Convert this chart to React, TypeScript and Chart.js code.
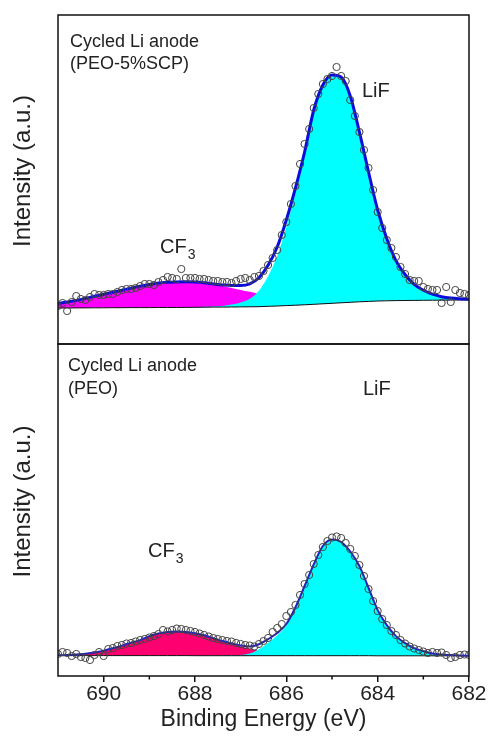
import React, { useEffect, useRef } from 'react';
import { Chart, registerables } from 'chart.js';

Chart.register(...registerables);

const FONT = '"Liberation Sans", Arial, Helvetica, sans-serif';

// Binding energy grid of the fitted curves (eV)
const FIT_ENERGY = [
  691.0, 690.8, 690.6, 690.4, 690.2, 690.0, 689.8, 689.6, 689.4, 689.2,
  689.0, 688.8, 688.6, 688.4, 688.2, 688.0, 687.8, 687.6, 687.4, 687.2,
  687.0, 686.8, 686.6, 686.4, 686.2, 686.0, 685.8, 685.6, 685.4, 685.2,
  685.0, 684.8, 684.6, 684.4, 684.2, 684.0, 683.8, 683.6, 683.4, 683.2,
  683.0, 682.8, 682.6, 682.4, 682.2, 682.0,
];

// Binding energy of the measured points (eV)
const DATA_ENERGY = [
  691.0, 690.9, 690.8, 690.7, 690.6, 690.5, 690.4, 690.3, 690.2, 690.1,
  690.0, 689.9, 689.8, 689.7, 689.6, 689.5, 689.4, 689.3, 689.2, 689.1,
  689.0, 688.9, 688.8, 688.7, 688.6, 688.5, 688.4, 688.3, 688.2, 688.1,
  688.0, 687.9, 687.8, 687.7, 687.6, 687.5, 687.4, 687.3, 687.2, 687.1,
  687.0, 686.9, 686.8, 686.7, 686.6, 686.5, 686.4, 686.3, 686.2, 686.1,
  686.0, 685.9, 685.8, 685.7, 685.6, 685.5, 685.4, 685.3, 685.2, 685.1,
  685.0, 684.9, 684.8, 684.7, 684.6, 684.5, 684.4, 684.3, 684.2, 684.1,
  684.0, 683.9, 683.8, 683.7, 683.6, 683.5, 683.4, 683.3, 683.2, 683.1,
  683.0, 682.9, 682.8, 682.7, 682.6, 682.5, 682.4, 682.3, 682.2, 682.1,
  682.0,
];

// ---- Top panel: Cycled Li anode (PEO-5%SCP) ----
const TOP_BACKGROUND = [
  36.0, 36.0, 36.1, 36.1, 36.2, 36.2, 36.3, 36.3, 36.4, 36.4,
  36.4, 36.5, 36.5, 36.5, 36.6, 36.7, 36.8, 36.9, 36.9, 37.0,
  37.1, 37.2, 37.3, 37.7, 38.0, 38.4, 38.8, 39.2, 39.7, 40.2,
  40.7, 41.2, 41.7, 42.2, 42.6, 43.0, 43.2, 43.4, 43.5, 43.6,
  43.7, 43.8, 43.8, 43.9, 44.0, 44.0,
];
const TOP_CF3 = [
  4.5, 6, 7.5, 9.5, 11.5, 13.5, 15.5, 17.5, 19.5, 21.5,
  23, 24.5, 25.3, 25.6, 25.5, 25, 24, 22.5, 21, 19,
  17, 15, 13, 11, 9, 7, 5.5, 4.2, 3, 2.2,
  1.5, 1, 0.6, 0.4, 0.2, 0.1, 0, 0, 0, 0,
  0, 0, 0, 0, 0, 0,
];
const TOP_LIF = [
  0, 0, 0, 0, 0, 0, 0, 0, 0, 0,
  0, 0, 0, 0, 0.1, 0.2, 0.4, 0.7, 1.2, 2.5,
  4.4, 8, 16, 30, 50, 78.6, 111.7, 148.6, 191.3, 216.6,
  226.8, 224.8, 205.7, 169.4, 129.2, 90.9, 62, 40, 26, 16,
  10, 6, 3.5, 2, 1.2, 0.8,
];
const TOP_COUNTS = [
  38, 41, 33, 42, 48, 45, 44, 47, 50, 49,
  49, 50, 50, 52, 54, 55, 55, 56, 58, 60,
  60, 59, 62, 64, 67, 66, 65, 75, 66, 66,
  66, 65, 65, 64, 63, 63, 62, 62, 61, 63,
  65, 66, 64, 67, 68, 73, 79, 86, 94, 109,
  122, 140, 158, 180, 200, 215, 236, 250, 260, 265,
  268, 277, 268, 263, 244, 228, 212, 194, 176, 154,
  132, 116, 104, 96, 87, 77, 70, 64, 63, 63,
  57, 55, 54, 54, 41, 57, 42, 54, 51, 50,
  49,
];

// ---- Bottom panel: Cycled Li anode (PEO) ----
const BOT_BACKGROUND = [
  20.4, 20.4, 20.4, 20.4, 20.4, 20.4, 20.4, 20.4, 20.4, 20.4,
  20.4, 20.4, 20.4, 20.4, 20.4, 20.3, 20.3, 20.3, 20.3, 20.3,
  20.3, 20.3, 20.3, 20.3, 20.3, 20.3, 20.3, 20.3, 20.3, 20.3,
  20.3, 20.3, 20.3, 20.3, 20.3, 20.2, 20.2, 20.2, 20.2, 20.2,
  20.2, 20.2, 20.2, 20.2, 20.2, 20.2,
];
const BOT_CF3 = [
  0.3, 0.6, 1.0, 1.8, 3.0, 5.0, 7.3, 10, 13, 15.5,
  19.5, 22, 23.5, 24, 23.7, 22.5, 20.5, 17.5, 14.5, 12,
  9.5, 7, 5, 3.5, 2.2, 1.4, 0.8, 0.5, 0.3, 0.2,
  0.1, 0, 0, 0, 0, 0, 0, 0, 0, 0,
  0, 0, 0, 0, 0, 0,
];
const BOT_LIF = [
  0, 0, 0, 0, 0, 0, 0, 0, 0, 0,
  0, 0, 0, 0, 0, 0, 0, 0.1, 0.2, 0.4,
  0.8, 2.2, 6.5, 13, 20.5, 30.3, 47.7, 69.2, 91, 109.5,
  116.1, 113.7, 104.2, 89.7, 67.7, 45.7, 30.7, 19.7, 12.7, 7.7,
  4.7, 2.3, 1.2, 0.7, 0.3, 0.1,
];
const BOT_COUNTS = [
  22, 24, 23, 20, 22, 19, 18, 16, 21, 24,
  20, 27, 28, 30, 31, 32.5, 33, 34.5, 36, 37,
  38.5, 40, 42, 46, 44.5, 46, 47.5, 47, 46, 45,
  44, 42.5, 41, 39.5, 38, 37, 36, 35, 34.5, 33,
  32, 31, 30.5, 29.5, 32, 35, 38, 44, 48, 52,
  60, 64, 71, 81, 92, 101, 112, 121, 129, 135,
  138.5, 139.5, 138, 133, 127, 120, 111, 100, 87, 75,
  65, 57, 51, 45, 41, 36, 32.5, 29.5, 27.5, 26,
  24.5, 23, 24, 23, 23.5, 21, 18, 19, 21, 21.5,
  21,
];

const MINOR_TICKS = [689, 687, 685, 683];
const Y_TITLE = 'Intensity (a.u.)';

type Panel = {
  background: number[];
  cf3: number[];
  lif: number[];
  counts: number[];
  yMax: number;
  cf3Color: string;
  lineColor: string;
  lineWidth: number;
  showX: boolean;
  padding: { left: number; right: number; top: number; bottom: number };
  title: string[];
  titlePos: { dx: number; dy: number; gap: number };
  lifPos: { dx: number; dy: number };
  cfPos: { dx: number; dy: number };
};

const TOP_PANEL: Panel = {
  background: TOP_BACKGROUND,
  cf3: TOP_CF3,
  lif: TOP_LIF,
  counts: TOP_COUNTS,
  yMax: 329,
  cf3Color: '#FF00FF',
  lineColor: '#0c0cd8',
  lineWidth: 3,
  showX: false,
  padding: { left: 58, right: 19, top: 15, bottom: 2 },
  title: ['Cycled Li anode', '(PEO-5%SCP)'],
  titlePos: { dx: 12, dy: 31.5, gap: 22 },
  lifPos: { dx: 304, dy: 82 },
  cfPos: { dx: 102, dy: 238 },
};

const BOTTOM_PANEL: Panel = {
  background: BOT_BACKGROUND,
  cf3: BOT_CF3,
  lif: BOT_LIF,
  counts: BOT_COUNTS,
  yMax: 332,
  cf3Color: '#FF0070',
  lineColor: '#2222b8',
  lineWidth: 2,
  showX: true,
  padding: { left: 58, right: 19, top: 1, bottom: 0 },
  title: ['Cycled Li anode', '(PEO)'],
  titlePos: { dx: 10, dy: 27, gap: 23 },
  lifPos: { dx: 305, dy: 51 },
  cfPos: { dx: 90, dy: 213 },
};

function buildConfig(p: Panel): any {
  const cf3Abs = p.background.map((b, i) => b + p.cf3[i]);
  const lifAbs = p.background.map((b, i) => b + p.lif[i]);
  const envelope = p.background.map((b, i) => b + p.cf3[i] + p.lif[i]);
  const xy = (ys: number[], xs: number[] = FIT_ENERGY) => xs.map((x, i) => ({ x, y: ys[i] }));

  const decor = {
    id: 'decor',
    afterDraw(chart: any) {
      const { ctx, chartArea } = chart;
      const { left, top, right, bottom } = chartArea;
      ctx.save();
      // frame
      ctx.strokeStyle = '#111';
      ctx.lineWidth = 1.5;
      ctx.strokeRect(left, top, right - left, bottom - top);
      // minor ticks
      if (p.showX) {
        const xs = chart.scales.x;
        ctx.beginPath();
        MINOR_TICKS.forEach((v) => {
          const px = xs.getPixelForValue(v);
          ctx.moveTo(px, bottom);
          ctx.lineTo(px, bottom + 3.5);
        });
        ctx.stroke();
      }
      // y-axis title
      ctx.fillStyle = '#222';
      ctx.save();
      ctx.translate(left - 35, (top + bottom) / 2 - 8.5);
      ctx.rotate(-Math.PI / 2);
      ctx.textAlign = 'center';
      ctx.textBaseline = 'middle';
      ctx.font = `24px ${FONT}`;
      ctx.fillText(Y_TITLE, 0, 0);
      ctx.restore();
      // texts
      ctx.textBaseline = 'alphabetic';
      ctx.textAlign = 'left';
      ctx.font = `18px ${FONT}`;
      p.title.forEach((t, i) => {
        ctx.fillText(t, left + p.titlePos.dx, top + p.titlePos.dy + i * p.titlePos.gap);
      });
      ctx.font = `20px ${FONT}`;
      ctx.fillText('LiF', left + p.lifPos.dx, top + p.lifPos.dy);
      const cx = left + p.cfPos.dx;
      const cy = top + p.cfPos.dy;
      ctx.fillText('CF', cx, cy);
      const w = ctx.measureText('CF').width;
      ctx.font = `14px ${FONT}`;
      ctx.fillText('3', cx + w + 1, cy + 6);
      ctx.restore();
    },
  };

  return {
    type: 'line',
    data: {
      datasets: [
        {
          label: 'Measured',
          data: xy(p.counts, DATA_ENERGY),
          showLine: false,
          pointRadius: 3.6,
          pointBorderWidth: 1,
          pointBorderColor: '#444',
          pointBackgroundColor: 'rgba(255,255,255,0)',
          borderColor: '#444',
          backgroundColor: 'rgba(0,0,0,0)',
          fill: false,
        },
        {
          label: 'Envelope',
          data: xy(envelope),
          borderColor: p.lineColor,
          borderWidth: p.lineWidth,
          pointRadius: 0,
          fill: false,
          cubicInterpolationMode: 'monotone',
        },
        {
          label: 'Background',
          data: xy(p.background),
          borderColor: '#111',
          borderWidth: 1,
          pointRadius: 0,
          fill: false,
        },
        {
          label: 'LiF',
          data: xy(lifAbs),
          borderWidth: 0,
          borderColor: 'rgba(0,0,0,0)',
          backgroundColor: '#00FFFF',
          pointRadius: 0,
          fill: 2,
          cubicInterpolationMode: 'monotone',
        },
        {
          label: 'CF3',
          data: xy(cf3Abs),
          borderWidth: 0,
          borderColor: 'rgba(0,0,0,0)',
          backgroundColor: p.cf3Color,
          pointRadius: 0,
          fill: 2,
          cubicInterpolationMode: 'monotone',
        },
      ],
    },
    options: {
      responsive: false,
      animation: false,
      events: [],
      layout: { padding: p.padding, autoPadding: false },
      plugins: {
        legend: { display: false },
        tooltip: { enabled: false },
        title: { display: false },
      },
      scales: {
        x: {
          type: 'linear',
          min: 682,
          max: 691,
          reverse: true,
          display: p.showX,
          afterFit: (s: any) => {
            if (p.showX) s.height = 60;
          },
          grid: {
            display: true,
            drawOnChartArea: false,
            drawTicks: true,
            tickLength: 6,
            color: '#111',
            lineWidth: 1.5,
          },
          border: { display: false },
          ticks: {
            stepSize: 2,
            includeBounds: false,
            padding: 0,
            color: '#222',
            maxRotation: 0,
            autoSkip: false,
            font: { family: FONT, size: 21 },
          },
          title: {
            display: true,
            text: 'Binding Energy (eV)',
            color: '#222',
            font: { family: FONT, size: 23 },
            padding: { top: 0, bottom: 3 },
          },
        },
        y: {
          type: 'linear',
          min: 0,
          max: p.yMax,
          display: false,
        },
      },
    },
    plugins: [decor],
  };
}

export default function App() {
  const topRef = useRef<HTMLCanvasElement | null>(null);
  const botRef = useRef<HTMLCanvasElement | null>(null);

  useEffect(() => {
    if (!topRef.current || !botRef.current) return;
    const c1 = new Chart(topRef.current, buildConfig(TOP_PANEL));
    const c2 = new Chart(botRef.current, buildConfig(BOTTOM_PANEL));
    return () => {
      c1.destroy();
      c2.destroy();
    };
  }, []);

  return (
    <div style={{ position: 'absolute', left: 0, top: 0, width: 488, height: 736, background: '#fff' }}>
      <canvas ref={topRef} width={488} height={346} style={{ position: 'absolute', left: 0, top: 0 }} />
      <canvas ref={botRef} width={488} height={393} style={{ position: 'absolute', left: 0, top: 343 }} />
    </div>
  );
}
